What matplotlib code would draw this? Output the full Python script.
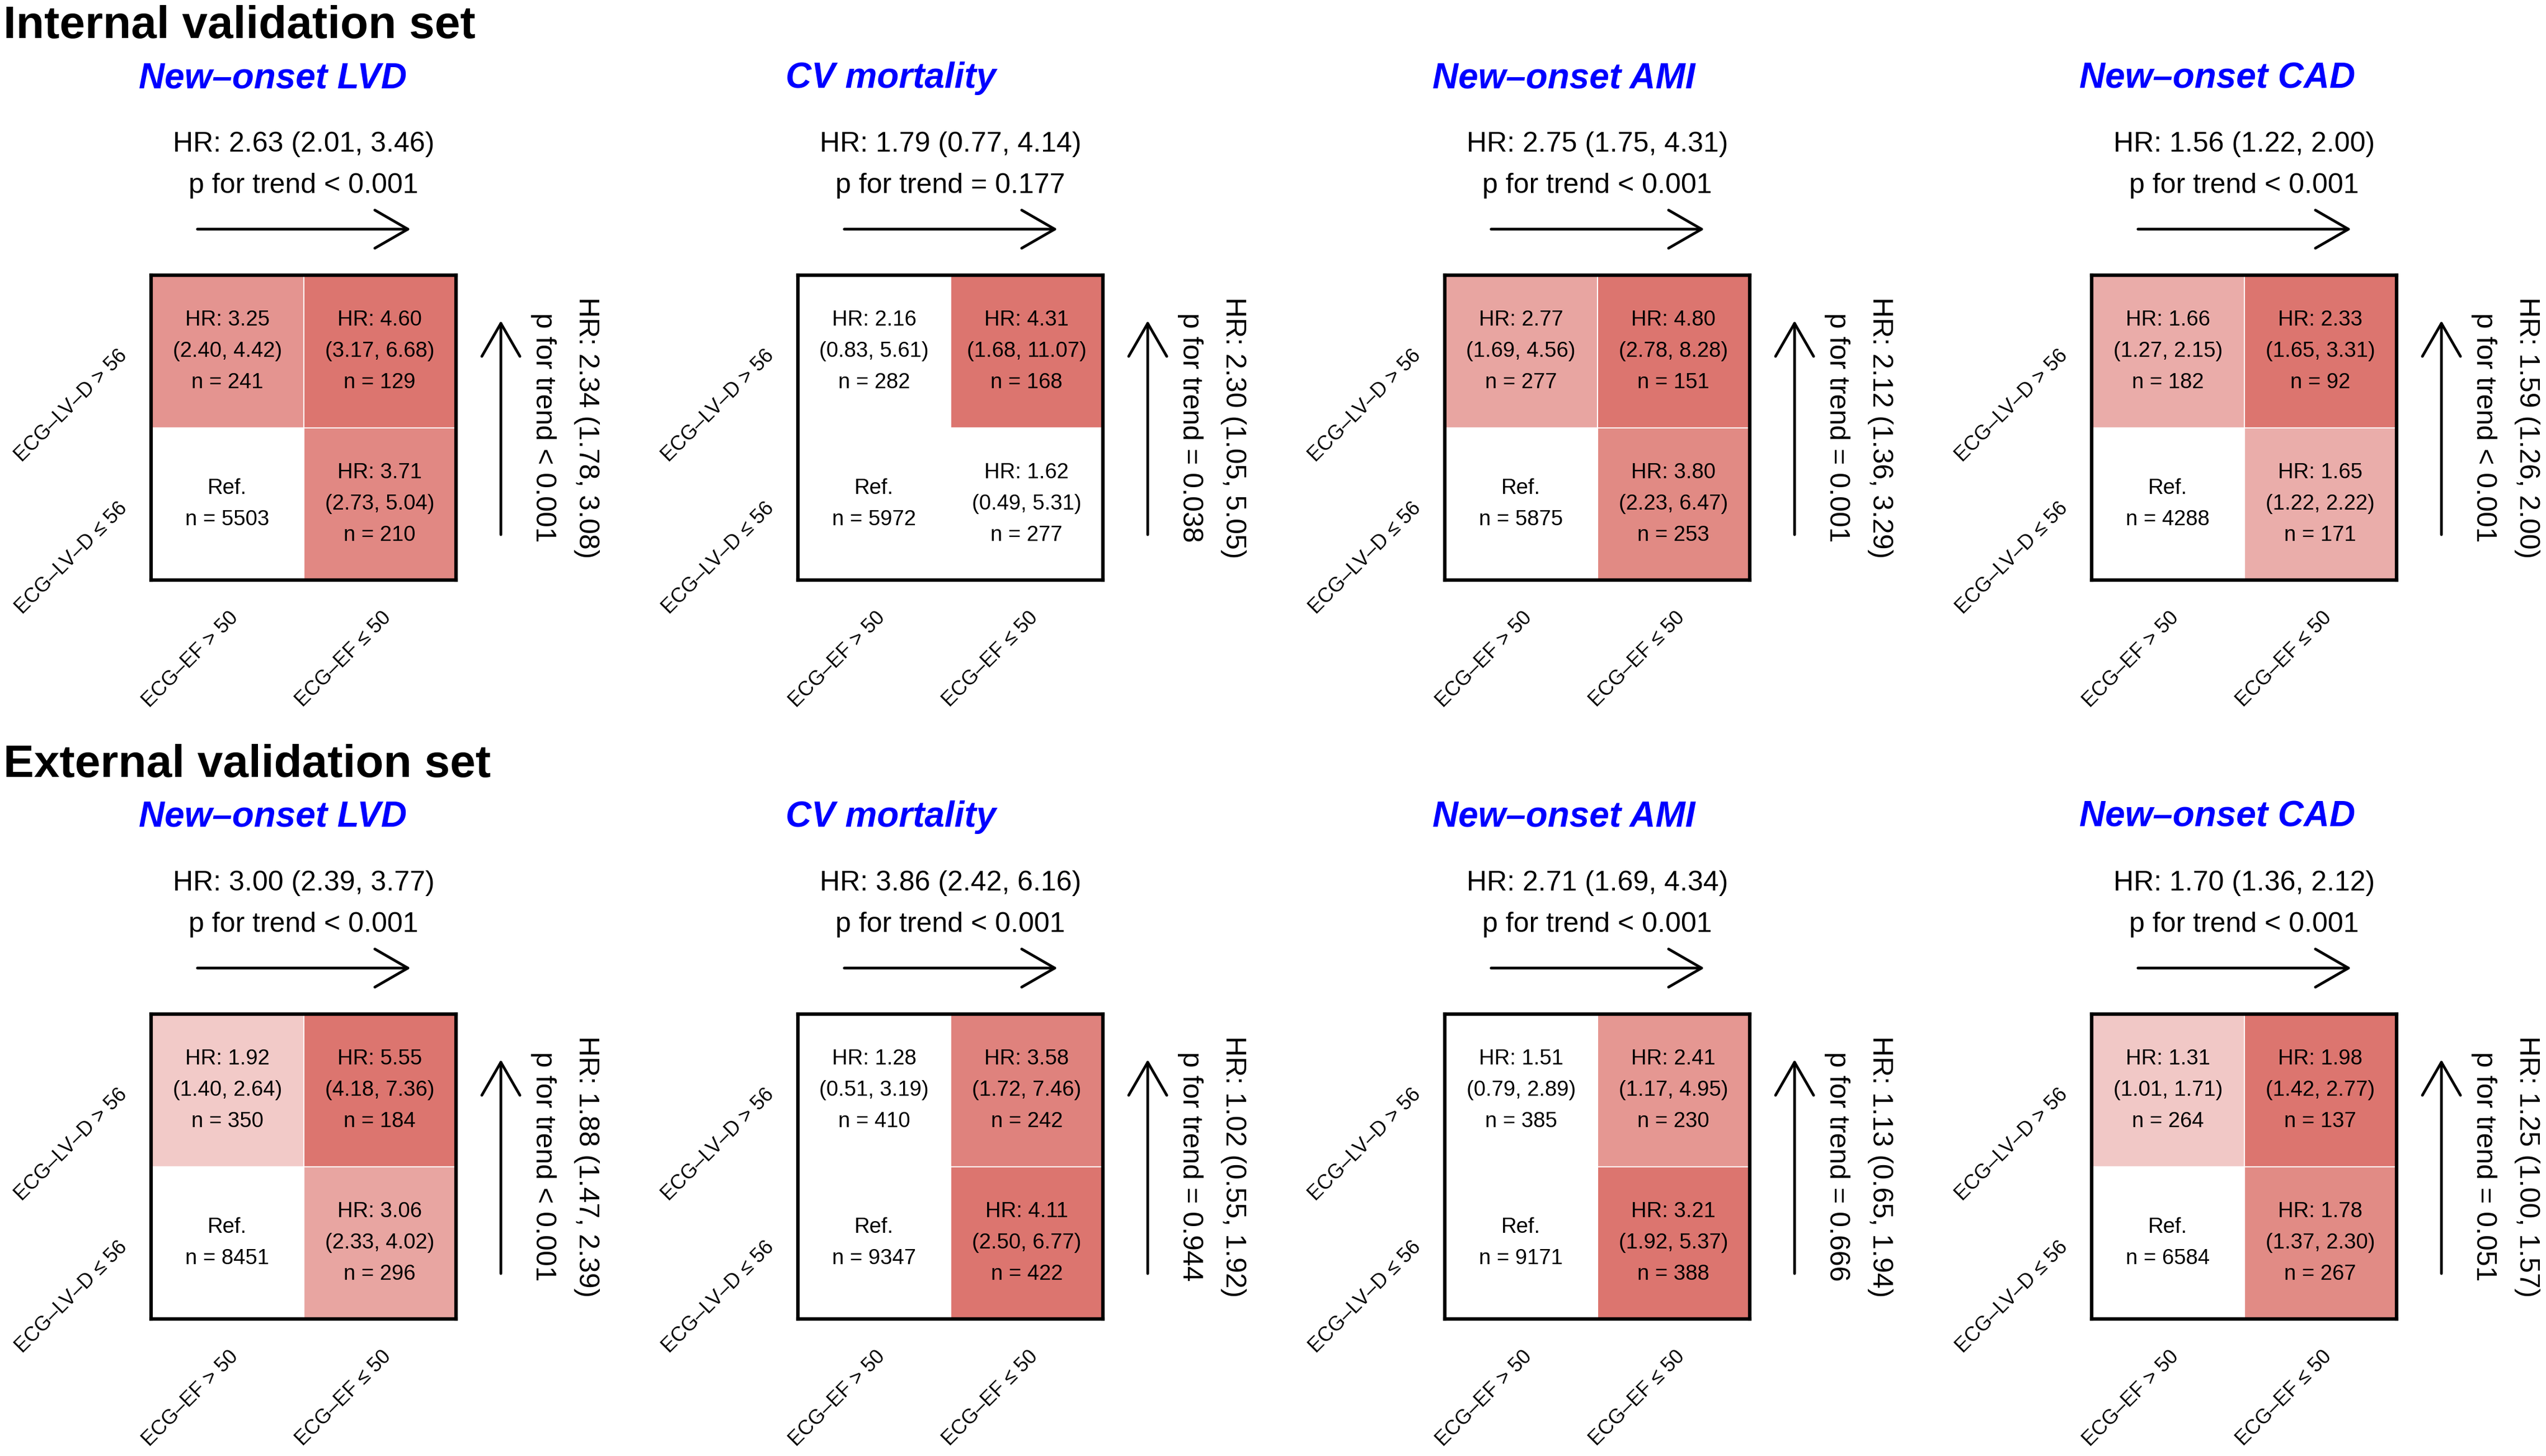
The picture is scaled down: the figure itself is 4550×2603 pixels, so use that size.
import numpy as np
import matplotlib.pyplot as plt

plt.rcParams['font.family'] = ['Liberation Sans', 'DejaVu Sans']

set_names = ["Internal validation set", "External validation set"]
outcomes = ["New–onset LVD", "CV mortality", "New–onset AMI", "New–onset CAD"]
col_labels = ["ECG–EF > 50", "ECG–EF ≤ 50"]
row_labels = ["ECG–LV–D > 56", "ECG–LV–D ≤ 56"]

# cell order: LV-D>56 & EF>50, LV-D>56 & EF<=50, LV-D<=56 & EF<=50
int_hr = [[3.25, 4.60, 3.71], [2.16, 4.31, 1.62], [2.77, 4.80, 3.80], [1.66, 2.33, 1.65]]
int_lo = [[2.40, 3.17, 2.73], [0.83, 1.68, 0.49], [1.69, 2.78, 2.23], [1.27, 1.65, 1.22]]
int_hi = [[4.42, 6.68, 5.04], [5.61, 11.07, 5.31], [4.56, 8.28, 6.47], [2.15, 3.31, 2.22]]
int_n = [[241, 129, 210], [282, 168, 277], [277, 151, 253], [182, 92, 171]]
int_ref_n = [5503, 5972, 5875, 4288]

ext_hr = [[1.92, 5.55, 3.06], [1.28, 3.58, 4.11], [1.51, 2.41, 3.21], [1.31, 1.98, 1.78]]
ext_lo = [[1.40, 4.18, 2.33], [0.51, 1.72, 2.50], [0.79, 1.17, 1.92], [1.01, 1.42, 1.37]]
ext_hi = [[2.64, 7.36, 4.02], [3.19, 7.46, 6.77], [2.89, 4.95, 5.37], [1.71, 2.77, 2.30]]
ext_n = [[350, 184, 296], [410, 242, 422], [385, 230, 388], [264, 137, 267]]
ext_ref_n = [8451, 9347, 9171, 6584]

# trend across ECG-EF (top arrow)
int_ef_hr = [2.63, 1.79, 2.75, 1.56]
int_ef_ci = [(2.01, 3.46), (0.77, 4.14), (1.75, 4.31), (1.22, 2.00)]
int_ef_p = ["< 0.001", "= 0.177", "< 0.001", "< 0.001"]
ext_ef_hr = [3.00, 3.86, 2.71, 1.70]
ext_ef_ci = [(2.39, 3.77), (2.42, 6.16), (1.69, 4.34), (1.36, 2.12)]
ext_ef_p = ["< 0.001", "< 0.001", "< 0.001", "< 0.001"]

# trend across ECG-LV-D (right arrow)
int_lvd_hr = [2.34, 2.30, 2.12, 1.59]
int_lvd_ci = [(1.78, 3.08), (1.05, 5.05), (1.36, 3.29), (1.26, 2.00)]
int_lvd_p = ["< 0.001", "= 0.038", "= 0.001", "< 0.001"]
ext_lvd_hr = [1.88, 1.02, 1.13, 1.25]
ext_lvd_ci = [(1.47, 2.39), (0.55, 1.92), (0.65, 1.94), (1.00, 1.57)]
ext_lvd_p = ["< 0.001", "= 0.944", "= 0.666", "= 0.051"]

rows = [
    (int_hr, int_lo, int_hi, int_n, int_ref_n, int_ef_hr, int_ef_ci, int_ef_p, int_lvd_hr, int_lvd_ci, int_lvd_p),
    (ext_hr, ext_lo, ext_hi, ext_n, ext_ref_n, ext_ef_hr, ext_ef_ci, ext_ef_p, ext_lvd_hr, ext_lvd_ci, ext_lvd_p),
]

W, H = 4550, 2603
box = 545
lefts = [270, 1426, 2582, 3738]
tops = [492, 1813]
dark = np.array([220, 117, 111]) / 255.0


def cell_color(hr, lo, hr_max):
    # non-significant cells stay white, others shade by log HR within the panel
    if lo <= 1:
        return "white"
    f = np.log(hr) / np.log(hr_max)
    return tuple(1 - f * (1 - dark))


fig = plt.figure(figsize=(W / 100, H / 100), dpi=100)
arrow = "->,head_length=4.25,head_width=2.45"
step = 56 / (box / 2)

for r, (hrs, los, his, ns, refs, ehr, eci, ep, lhr, lci, lp) in enumerate(rows):
    fig.text(6 / W, 1 - (tops[r] - 424) / H, set_names[r], fontsize=59,
             fontweight="bold", ha="left", va="baseline")
    for c in range(4):
        ax = fig.add_axes([lefts[c] / W, 1 - (tops[r] + box) / H, box / W, box / H])
        hr, lo, hi, n = hrs[c], los[c], his[c], ns[c]
        sig_max = max([h for h, l in zip(hr, lo) if l > 1], default=1.0)
        colors = [cell_color(h, l, sig_max) for h, l in zip(hr, lo)] + ["white"]
        ax.bar([0.5, 1.5, 1.5, 0.5], 1, bottom=[1, 1, 0, 0], width=1,
               color=colors, edgecolor="white", linewidth=1.5)
        ax.set_xlim(0, 2)
        ax.set_ylim(0, 2)
        ax.set_xticks([])
        ax.set_yticks([])
        for s in ax.spines.values():
            s.set_linewidth(4.5)
            s.set_zorder(5)

        for (x, y), h, l, u, k in zip([(0.5, 1.5), (1.5, 1.5), (1.5, 0.5)], hr, lo, hi, n):
            lines = [f"HR: {h:.2f}", f"({l:.2f}, {u:.2f})", f"n = {k}"]
            for i, t in enumerate(lines):
                ax.text(x, y + (1 - i) * step, t, fontsize=27.5, ha="center", va="center")
        ax.text(0.5, 0.5 + step / 2, "Ref.", fontsize=27.5, ha="center", va="center")
        ax.text(0.5, 0.5 - step / 2, f"n = {refs[c]}", fontsize=27.5, ha="center", va="center")

        ax.text(-22 / box, 1 + 335 / box, outcomes[c], transform=ax.transAxes,
                fontsize=46, fontweight="bold", fontstyle="italic", color="#0000FF",
                ha="left", va="baseline")
        ax.text(0.5, 1 + 221 / box, f"HR: {ehr[c]:.2f} ({eci[c][0]:.2f}, {eci[c][1]:.2f})",
                transform=ax.transAxes, fontsize=36, ha="center", va="baseline")
        ax.text(0.5, 1 + 147 / box, f"p for trend {ep[c]}",
                transform=ax.transAxes, fontsize=36, ha="center", va="baseline")
        ax.annotate("", xy=(0.851, 1.151), xytext=(0.152, 1.151), xycoords="axes fraction",
                    arrowprops=dict(arrowstyle=arrow, lw=3.5, color="black",
                                    shrinkA=0, shrinkB=0), annotation_clip=False)

        ax.text(1 + 233 / box, 0.5, f"HR: {lhr[c]:.2f} ({lci[c][0]:.2f}, {lci[c][1]:.2f})",
                transform=ax.transAxes, fontsize=36, rotation=270, ha="center", va="center")
        ax.text(1 + 156 / box, 0.5, f"p for trend {lp[c]}",
                transform=ax.transAxes, fontsize=36, rotation=270, ha="center", va="center")
        ax.annotate("", xy=(1.147, 0.851), xytext=(1.147, 0.149), xycoords="axes fraction",
                    arrowprops=dict(arrowstyle=arrow, lw=3.5, color="black",
                                    shrinkA=0, shrinkB=0), annotation_clip=False)

        for j, lab in enumerate(row_labels):
            ax.text(-0.088, 0.745 - 0.5 * j, lab, transform=ax.transAxes, fontsize=26,
                    rotation=45, rotation_mode="anchor", ha="right", va="center")
        for j, lab in enumerate(col_labels):
            ax.text(0.276 + 0.5 * j, -0.115, lab, transform=ax.transAxes, fontsize=26,
                    rotation=45, rotation_mode="anchor", ha="right", va="center")

fig.savefig("out.png", dpi=100)
